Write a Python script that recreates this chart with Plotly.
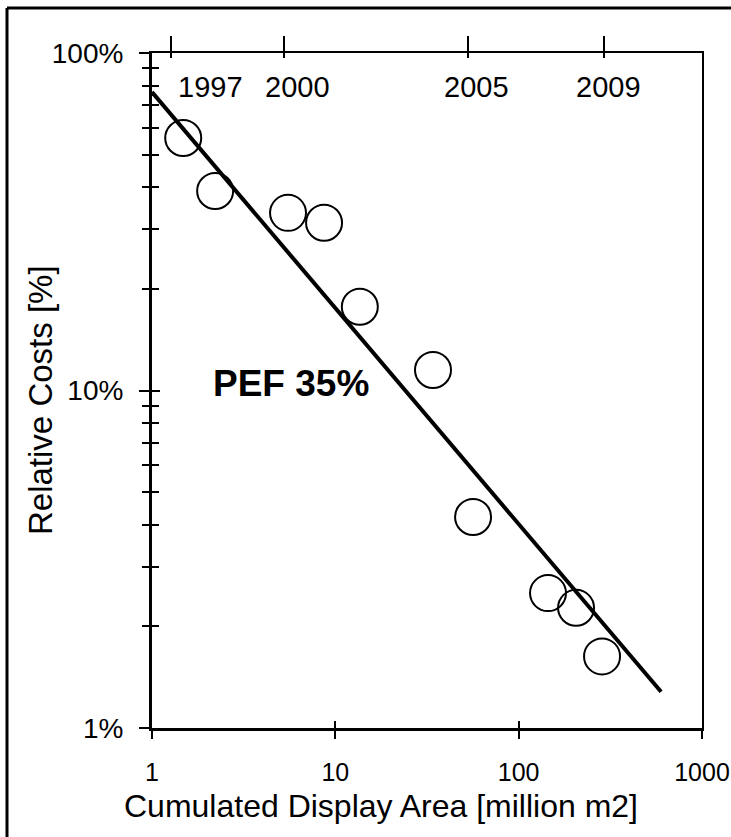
import math
import plotly.graph_objects as go

# ---- data ----
area = [1.48, 2.21, 5.52, 8.68, 13.6, 34.1, 56.4, 144.6, 205.6, 285.0]   # million m2
rel_cost = [56.0, 39.0, 33.6, 31.4, 17.7, 11.5, 4.22, 2.51, 2.27, 1.63]  # %

fit_area = [1.0, 598.0]
fit_cost = [76.6, 1.28]

x_tickvals = [1, 10, 100, 1000]
x_ticktext = ["1", "10", "100", "1000"]
y_tickvals = [1, 10, 100]
y_ticktext = ["1%", "10%", "100%"]
y_minor = [2, 3, 4, 5, 6, 7, 8, 9, 20, 30, 40, 50, 60, 70, 80, 90]

year_area = [1.27, 5.25, 53.0, 292.0]
year_labels = ["1997", "2000", "2005", "2009"]
year_label_shift = [39, 13, 8, 5]

annotation_text = "PEF 35%"
x_title = "Cumulated Display Area [million m2]"
y_title = "Relative Costs [%]"

# ---- layout geometry (pixels) ----
W, H = 731, 837
L, R, T, B = 152, 29, 53, 109
PW, PH = W - L - R, H - T - B

def px2paper_x(px):
    return (px - L) / PW

def px2paper_y(py):
    return (H - B - py) / PH

FONT = "Liberation Sans, Arial, sans-serif"

fig = go.Figure()

fig.add_trace(go.Scatter(
    x=fit_area, y=fit_cost, mode="lines",
    line=dict(color="black", width=4),
    showlegend=False, hoverinfo="skip",
))
fig.add_trace(go.Scatter(
    x=area, y=rel_cost, mode="markers",
    marker=dict(symbol="circle-open", size=36, color="black",
                line=dict(color="black", width=2)),
    showlegend=False,
))

axis_common = dict(type="log", showgrid=False, zeroline=False, automargin=False)

fig.update_layout(
    width=W, height=H, autosize=False,
    margin=dict(l=L, r=R, t=T, b=B, pad=0, autoexpand=False),
    paper_bgcolor="white", plot_bgcolor="white",
    font=dict(family=FONT, color="black"),
    showlegend=False,
    xaxis=dict(**axis_common, range=[0, 3], showline=True, linewidth=3,
               linecolor="black", ticks="outside", ticklen=8, tickwidth=2,
               tickcolor="black", tickvals=x_tickvals, ticktext=x_ticktext,
               tickfont=dict(size=25, family=FONT), ticklabelstandoff=12),
    xaxis3=dict(**axis_common, range=[0, 3], overlaying="x", anchor="y",
                showline=False, ticks="inside", ticklen=7, tickwidth=2,
                tickcolor="black", tickvals=x_tickvals, showticklabels=False),
    xaxis2=dict(**axis_common, range=[0, 3], overlaying="x", anchor="y",
                side="top", showline=True, linewidth=2, linecolor="black",
                ticks="outside", ticklen=15, tickwidth=2, tickcolor="black",
                tickvals=year_area, showticklabels=False),
    xaxis4=dict(**axis_common, range=[0, 3], overlaying="x", anchor="y",
                side="top", showline=False, ticks="inside", ticklen=5,
                tickwidth=2, tickcolor="black", tickvals=year_area,
                showticklabels=False),
    yaxis=dict(**axis_common, range=[0, 2], showline=True, linewidth=3,
               linecolor="black", ticks="outside", ticklen=10, tickwidth=2,
               tickcolor="black", tickvals=y_tickvals, ticktext=y_ticktext,
               tickfont=dict(size=28, family=FONT), ticklabelstandoff=10,
               minor=dict(tickvals=y_minor, ticks="outside", ticklen=7,
                          tickwidth=2, tickcolor="black")),
    yaxis3=dict(**axis_common, range=[0, 2], overlaying="y", anchor="x",
                showline=False, ticks="inside", ticklen=8, tickwidth=2,
                tickcolor="black", tickvals=y_tickvals, showticklabels=False,
                minor=dict(tickvals=y_minor, ticks="inside", ticklen=7,
                           tickwidth=2, tickcolor="black")),
    yaxis2=dict(**axis_common, range=[0, 2], overlaying="y", anchor="x",
                side="right", showline=True, linewidth=2, linecolor="black",
                ticks="", showticklabels=False),
)

# invisible traces to activate overlay axes
for xa, ya in [("x2", "y"), ("x3", "y3"), ("x4", "y2")]:
    fig.add_trace(go.Scatter(x=[1], y=[1], xaxis=xa, yaxis=ya, mode="markers",
                             marker=dict(opacity=0), showlegend=False,
                             hoverinfo="skip"))

annotations = []
for a, lab, sh in zip(year_area, year_labels, year_label_shift):
    annotations.append(dict(
        x=math.log10(a), y=px2paper_y(87), xref="x", yref="paper",
        text=lab, showarrow=False, xshift=sh, xanchor="center", yanchor="middle",
        font=dict(size=29, family=FONT, color="black"),
    ))
annotations.append(dict(
    x=px2paper_x(291), y=px2paper_y(383), xref="paper", yref="paper",
    text="<b>" + annotation_text + "</b>", showarrow=False,
    xanchor="center", yanchor="middle",
    font=dict(size=37, family=FONT, color="black"),
))
annotations.append(dict(
    x=px2paper_x(381), y=px2paper_y(806), xref="paper", yref="paper",
    text=x_title, showarrow=False, xanchor="center", yanchor="middle",
    font=dict(size=32, family=FONT, color="black"),
))
annotations.append(dict(
    x=px2paper_x(40), y=px2paper_y(400), xref="paper", yref="paper",
    text=y_title, showarrow=False, textangle=-90,
    xanchor="center", yanchor="middle",
    font=dict(size=33, family=FONT, color="black"),
))
fig.update_layout(annotations=annotations)

# outer frame (left and top edges only are visible in the reference)
fig.add_shape(type="line", xref="paper", yref="paper",
              x0=px2paper_x(7), x1=px2paper_x(7),
              y0=px2paper_y(H), y1=px2paper_y(8),
              line=dict(color="black", width=3), layer="below")
fig.add_shape(type="line", xref="paper", yref="paper",
              x0=px2paper_x(7), x1=px2paper_x(W),
              y0=px2paper_y(8), y1=px2paper_y(8),
              line=dict(color="black", width=3), layer="below")

fig.write_html("out.html")
